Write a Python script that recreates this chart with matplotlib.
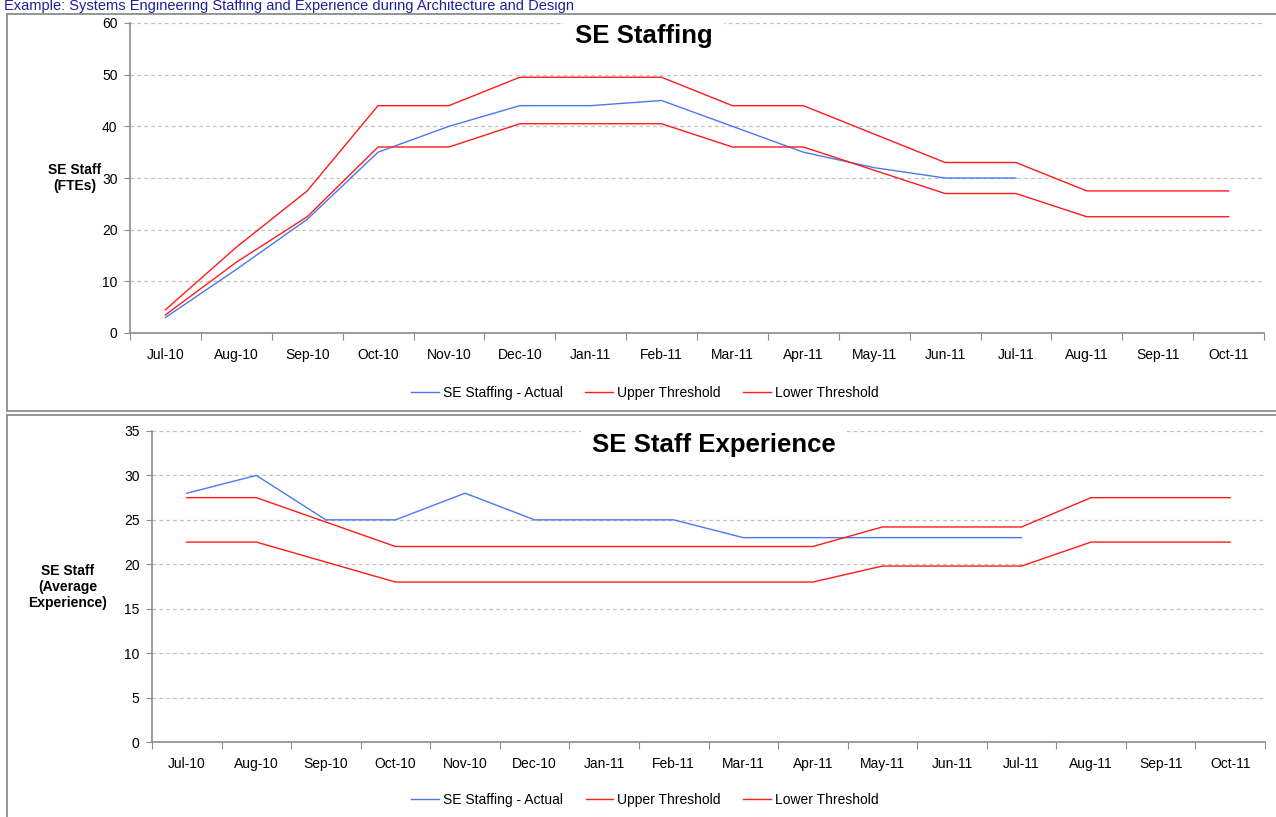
import numpy as np
import matplotlib
matplotlib.use("Agg")
import matplotlib.pyplot as plt
from matplotlib.lines import Line2D

plt.rcParams['font.family'] = ['Liberation Sans', 'DejaVu Sans']

# Veriler
months = ["Jul-10", "Aug-10", "Sep-10", "Oct-10", "Nov-10", "Dec-10", "Jan-11", "Feb-11",
          "Mar-11", "Apr-11", "May-11", "Jun-11", "Jul-11", "Aug-11", "Sep-11", "Oct-11"]

staff_actual = [3, 12.3, 22, 35, 40, 44, 44, 45, 40, 35, 32, 30, 30, np.nan, np.nan, np.nan]
staff_upper = [4.5, 16.6, 27.5, 44, 44, 49.5, 49.5, 49.5, 44, 44, 38.5, 33, 33, 27.5, 27.5, 27.5]
staff_lower = [3.5, 13.7, 22.5, 36, 36, 40.5, 40.5, 40.5, 36, 36, 31.5, 27, 27, 22.5, 22.5, 22.5]

exp_actual = [28, 30, 25, 25, 28, 25, 25, 25, 23, 23, 23, 23, 23, np.nan, np.nan, np.nan]
exp_upper = [27.5, 27.5, 24.75, 22, 22, 22, 22, 22, 22, 22, 24.2, 24.2, 24.2, 27.5, 27.5, 27.5]
exp_lower = [22.5, 22.5, 20.25, 18, 18, 18, 18, 18, 18, 18, 19.8, 19.8, 19.8, 22.5, 22.5, 22.5]

header = "Example: Systems Engineering Staffing and Experience during Architecture and Design"

W, H = 1276, 817
fig = plt.figure(figsize=(W / 100, H / 100), dpi=100)

BLUE = "#4a78f0"
RED = "#ff1a1a"
GRID = "#c0c0c0"
SPINE = "#8c8c8c"


def fx(px):
    return px / W


def fy(py):
    return 1 - py / H


def make_panel(rect, ymax, ystep, actual, upper, lower, title, title_x, title_y,
               ylabel, ylabel_pos, leg_anchor):
    ax = fig.add_axes(rect)
    x = np.arange(len(months))
    ax.plot(x, actual, color=BLUE, lw=1.0, label="SE Staffing - Actual", zorder=3)
    ax.plot(x, upper, color=RED, lw=1.0, label="Upper Threshold", zorder=3)
    ax.plot(x, lower, color=RED, lw=1.0, label="Lower Threshold", zorder=3)

    ax.set_xlim(-0.5, len(months) - 0.5)
    ax.set_ylim(0, ymax)
    ax.set_yticks(np.arange(0, ymax + 1, ystep))
    ax.set_xticks(np.arange(-0.5, len(months), 1.0))
    ax.set_xticklabels([])
    ax.set_xticks(x, minor=True)
    ax.set_xticklabels(months, minor=True)
    ax.tick_params(axis="x", which="major", length=5, color=SPINE, direction="out")
    ax.tick_params(axis="x", which="minor", length=0, pad=11, labelsize=10)
    ax.tick_params(axis="y", length=4, color=SPINE, pad=5, labelsize=10)

    for s in ["top", "right"]:
        ax.spines[s].set_visible(False)
    for s in ["left", "bottom"]:
        ax.spines[s].set_color(SPINE)
        ax.spines[s].set_linewidth(1.2)

    ax.yaxis.grid(True, color=GRID, lw=0.9, linestyle=(0, (3, 2.5)))
    ax.set_axisbelow(True)

    ax.text(title_x, title_y, title, transform=ax.transAxes, ha="center", va="baseline",
            fontsize=18.5, fontweight="bold", zorder=5,
            bbox=dict(facecolor="white", edgecolor="none", pad=8))

    fig.text(fx(ylabel_pos[0]), fy(ylabel_pos[1]), ylabel, ha="center", va="center",
             fontsize=10, fontweight="bold", multialignment="center", linespacing=1.15)

    ax.legend(loc="center", bbox_to_anchor=leg_anchor, ncol=3, frameon=False,
              fontsize=10, handlelength=2.0, handletextpad=0.3, columnspacing=1.6)
    return ax


make_panel([fx(130), fy(333), fx(1264) - fx(130), (333 - 23) / H], 60, 10,
           staff_actual, staff_upper, staff_lower, "SE Staffing", 0.453, 0.935,
           "SE Staff\n(FTEs)", (75, 178), (0.454, -0.194))

make_panel([fx(152), fy(742), fx(1265) - fx(152), (742 - 431) / H], 35, 5,
           exp_actual, exp_upper, exp_lower, "SE Staff Experience", 0.505, 0.932,
           "SE Staff\n(Average\nExperience)", (68, 587), (0.443, -0.186))

# panel cerceveleri
for coords in [([fx(7), fx(7)], [fy(14), fy(411)]),
               ([fx(7), 1.0], [fy(14), fy(14)]),
               ([fx(7), 1.0], [fy(411), fy(411)]),
               ([fx(7), fx(7)], [fy(415), 0.0]),
               ([fx(7), 1.0], [fy(415), fy(415)])]:
    fig.add_artist(Line2D(coords[0], coords[1], transform=fig.transFigure, color=SPINE, lw=1.3))

# sayfa basligi: sayfanin ustundeki seridin icine sigdirildi
fig.text(fx(4), fy(10), header, ha="left", va="baseline", fontsize=10.5, color="#1f1f9c")

fig.savefig("out.png", dpi=100)
